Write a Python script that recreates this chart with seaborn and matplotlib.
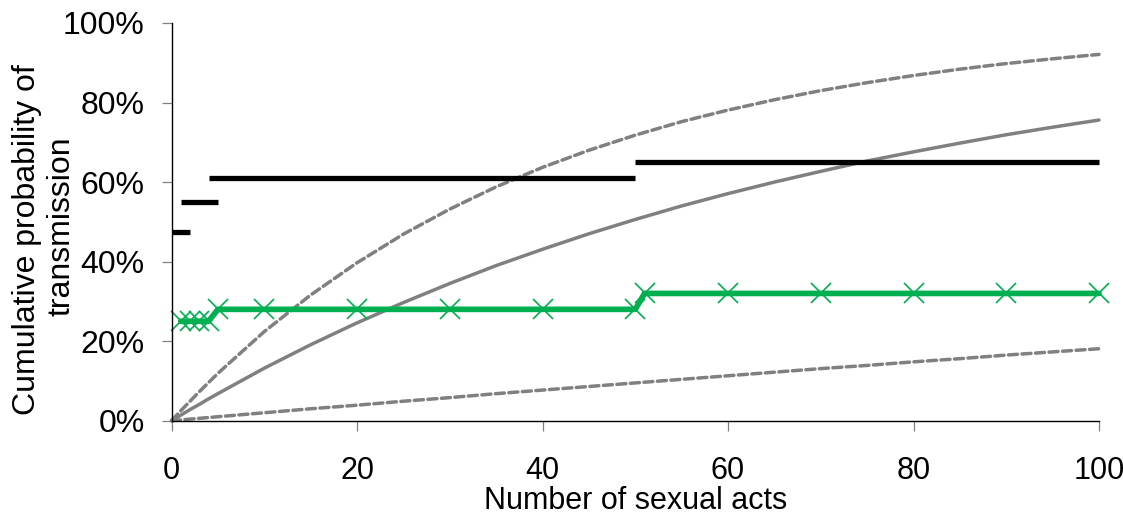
import matplotlib
matplotlib.use("Agg")
import matplotlib.pyplot as plt
import seaborn as sns
import pandas as pd

# ---------------- data ----------------
acts_grid = [0, 1, 2, 3, 4, 5, 10, 15, 20, 25, 30, 35, 40, 45, 50,
             55, 60, 65, 70, 75, 80, 85, 90, 95, 100]
curve_mid = [0.0, 1.4, 2.8, 4.1, 5.5, 6.8, 13.2, 19.1, 24.6, 29.7, 34.5, 39.0,
             43.1, 47.0, 50.6, 54.0, 57.1, 60.0, 62.7, 65.3, 67.6, 69.8, 71.9,
             73.8, 75.6]
curve_high = [0.0, 2.5, 4.9, 7.3, 9.6, 11.9, 22.4, 31.6, 39.7, 46.9, 53.2,
              58.8, 63.7, 68.0, 71.8, 75.2, 78.1, 80.7, 83.0, 85.0, 86.8, 88.4,
              89.8, 91.0, 92.1]
curve_low = [0.0, 0.2, 0.4, 0.6, 0.8, 1.0, 2.0, 3.0, 3.9, 4.9, 5.8, 6.8, 7.7,
             8.6, 9.5, 10.4, 11.3, 12.2, 13.1, 13.9, 14.8, 15.6, 16.5, 17.3,
             18.1]

green_x = [1, 2, 3, 4, 5, 10, 20, 30, 40, 50, 51, 60, 70, 80, 90, 100]
green_y = [25, 25, 25, 25, 28, 28, 28, 28, 28, 28, 32, 32, 32, 32, 32, 32]

black_start = [0, 1, 4, 50]
black_end = [2, 5, 50, 100]
black_value = [47.5, 55, 61, 65]

x_ticks = [0, 20, 40, 60, 80, 100]
y_ticks = [0, 20, 40, 60, 80, 100]
y_tick_labels = ["0%", "20%", "40%", "60%", "80%", "100%"]

x_title = "Number of sexual acts"
y_title_lines = ["Cumulative probability of", "transmission"]

# ---------------- styling ----------------
sns.set_theme(style="white")
plt.rcParams["font.family"] = ["Liberation Sans", "DejaVu Sans"]

fig = plt.figure(figsize=(11.23, 5.2), dpi=100)
ax = fig.add_axes([171.5 / 1123, 1 - 420.7 / 520,
                   (1099 - 171.5) / 1123, (420.7 - 23) / 520])

gray = "#808080"
green = "#00B050"

curves = pd.DataFrame({"acts": acts_grid, "mid": curve_mid,
                       "high": curve_high, "low": curve_low})

sns.lineplot(data=curves, x="acts", y="low", ax=ax, color=gray, lw=2.5,
             clip_on=False).lines[-1].set_dashes([2.6, 1.3])
sns.lineplot(data=curves, x="acts", y="high", ax=ax, color=gray, lw=2.5,
             clip_on=False).lines[-1].set_dashes([2.6, 1.3])
sns.lineplot(data=curves, x="acts", y="mid", ax=ax, color=gray, lw=2.5,
             clip_on=False)
for ln in ax.lines:
    ln.set_solid_capstyle("round")
    ln.set_dash_capstyle("round")

green_df = pd.DataFrame({"acts": green_x, "prob": green_y})
sns.lineplot(data=green_df, x="acts", y="prob", ax=ax, color=green, lw=4.1,
             marker="x", markersize=14, markeredgewidth=1.2,
             markeredgecolor=green, clip_on=False)

rows = []
for i, (s, e, v) in enumerate(zip(black_start, black_end, black_value)):
    rows.append({"seg": i, "acts": s, "prob": v})
    rows.append({"seg": i, "acts": e, "prob": v})
black_df = pd.DataFrame(rows)
n_before = len(ax.lines)
sns.lineplot(data=black_df, x="acts", y="prob", units="seg", estimator=None,
             ax=ax, color="black", lw=3.8, clip_on=False)
for ln in ax.lines[n_before:]:
    ln.set_solid_capstyle("butt")

ax.set_xlim(0, 100)
ax.set_ylim(0, 100)
ax.set_xticks(x_ticks)
ax.set_xticklabels([str(t) for t in x_ticks])
ax.set_yticks(y_ticks)
ax.set_yticklabels(y_tick_labels)

for side in ["top", "right"]:
    ax.spines[side].set_visible(False)
for side in ["left", "bottom"]:
    ax.spines[side].set_color("black")
    ax.spines[side].set_linewidth(1.0)

ax.tick_params(axis="both", which="major", direction="out", length=7.2,
               width=0.9, color=gray, labelcolor="black",
               bottom=True, left=True)
ax.tick_params(axis="x", pad=18, labelsize=22)
ax.tick_params(axis="y", pad=12, labelsize=23)

ax.set_xlabel(x_title, fontsize=22, color="black")
ax.xaxis.set_label_coords(0.5, (420.7 - 501) / (420.7 - 23))
ax.xaxis.label.set_va("center")
ax.set_ylabel("")
fig.text(26.7 / 1123, 1 - 240 / 520, y_title_lines[0], rotation=90,
         ha="center", va="center", fontsize=23, color="black")
fig.text(61.7 / 1123, 1 - 226 / 520, y_title_lines[1], rotation=90,
         ha="center", va="center", fontsize=23, color="black")

fig.savefig("out.png", dpi=100)
